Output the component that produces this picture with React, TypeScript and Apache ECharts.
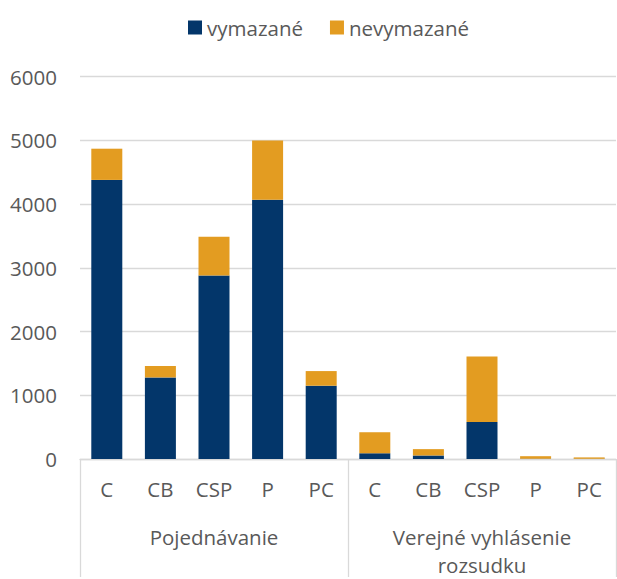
import React, { useEffect, useRef } from "react";
import * as echarts from "echarts";

const categories = ["C", "CB", "CSP", "P", "PC", "C", "CB", "CSP", "P", "PC"];
const groups = ["Pojednávanie", "Verejné vyhlásenie\nrozsudku"];
const vymazane = [4380, 1280, 2880, 4070, 1150, 90, 55, 580, 4, 3];
const nevymazane = [490, 180, 610, 930, 230, 330, 100, 1030, 40, 22];
const seriesNames = ["vymazané", "nevymazané"];
const colors = ["#03366A", "#E39C21"];

const FONT = "Open Sans";
const TEXT = "#595959";
const FS = 20.5;

export default function App() {
  const ref = useRef<HTMLDivElement>(null);
  useEffect(() => {
    const chart = echarts.init(ref.current!, null, { renderer: "svg" });
    chart.setOption({
      animation: false,
      textStyle: { fontFamily: FONT },
      legend: {
        top: 12,
        left: 183,
        itemWidth: 14,
        itemHeight: 14,
        itemGap: 27,
        icon: "rect",
        textStyle: { color: TEXT, fontSize: FS, fontFamily: FONT },
        data: seriesNames,
      },
      grid: { left: 80, right: 1, top: 76.7, bottom: 116.3, containLabel: false },
      yAxis: {
        type: "value",
        min: 0,
        max: 6000,
        interval: 1000,
        axisLine: { show: false },
        axisTick: { show: false },
        splitLine: { lineStyle: { color: "#D9D9D9", width: 1.3 } },
        axisLabel: {
          color: TEXT,
          fontSize: FS,
          fontFamily: FONT,
          margin: 23,
          formatter: (v: number) => String(v),
        },
      },
      xAxis: [
        {
          type: "category",
          data: categories,
          position: "bottom",
          axisLine: { lineStyle: { color: "#D9D9D9", width: 1.3 } },
          axisTick: { show: false },
          axisLabel: {
            color: TEXT,
            fontSize: FS,
            fontFamily: FONT,
            margin: 19,
            interval: 0,
          },
        },
        {
          type: "category",
          data: groups,
          position: "bottom",
          axisLine: { show: false },
          axisTick: {
            show: true,
            length: 118,
            interval: 0,
            lineStyle: { color: "#D9D9D9", width: 1.3 },
          },
          axisLabel: {
            color: TEXT,
            fontSize: FS,
            fontFamily: FONT,
            margin: 64,
            interval: 0,
            lineHeight: 28,
            verticalAlign: "top",
          },
        },
      ],
      series: [
        {
          name: seriesNames[0],
          type: "bar",
          stack: "total",
          xAxisIndex: 0,
          data: vymazane,
          barWidth: 31,
          itemStyle: { color: colors[0] },
        },
        {
          name: seriesNames[1],
          type: "bar",
          stack: "total",
          xAxisIndex: 0,
          data: nevymazane,
          barWidth: 31,
          itemStyle: { color: colors[1] },
        },
      ],
    });
    return () => chart.dispose();
  }, []);
  return <div ref={ref} style={{ width: 617, height: 579, position: "absolute", left: 0, top: 0 }} />;
}
